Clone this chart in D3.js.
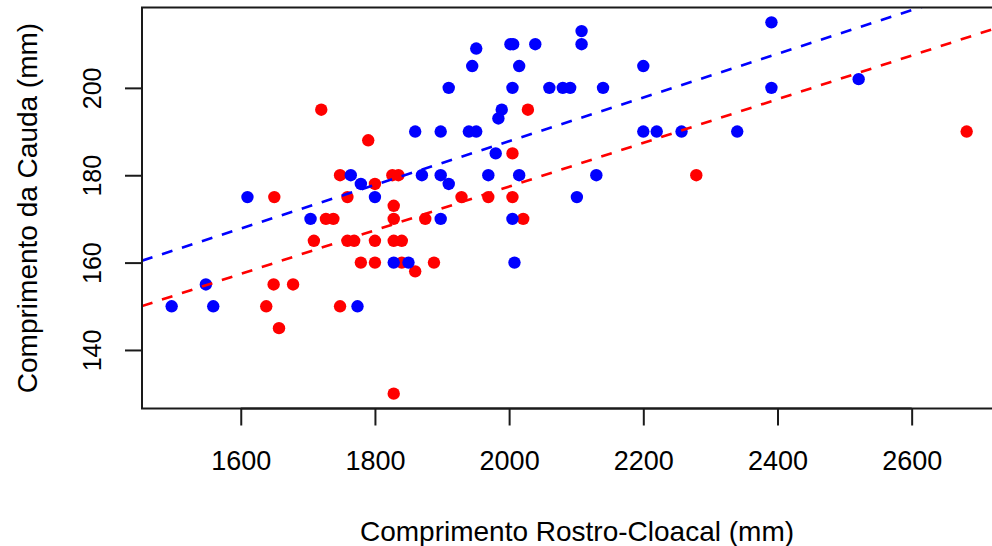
<!DOCTYPE html>
<html>
<head>
<meta charset="utf-8">
<script src="https://cdn.jsdelivr.net/npm/d3@7"></script>
<style>
  html, body { margin: 0; padding: 0; background: #fff; }
  svg { display: block; font-family: "Liberation Sans", Arial, sans-serif; }
</style>
</head>
<body>
<svg id="chart" width="992" height="546"></svg>
<script>
// ---- Data ----
const blueX = [1497,1548,1559,1610,1704,1764,1774,1779,1800,1828,1850,1860,1870,1898,1898,1898,1910,1910,1940,1945,1951,1951,1969,1980,1984,1989,2002,2006,2005,2005,2008,2015,2015,2039,2060,2080,2091,2101,2108,2108,2130,2140,2200,2200,2220,2257,2340,2391,2391,2521];
const blueY = [150,155,150,175,170,180,150,178,175,160,160,190,180,190,180,170,178,200,190,205,209,190,180,185,193,195,210,210,200,170,160,205,180,210,200,200,200,175,213,210,180,200,205,190,190,190,190,215,200,202];
const redX = [1638,1649,1650,1657,1678,1709,1720,1727,1738,1748,1748,1759,1759,1769,1779,1790,1800,1800,1800,1826,1835,1828,1828,1828,1828,1840,1840,1860,1875,1888,1929,1969,2005,2005,2021,2028,2279,2682];
const redY = [150,155,175,145,155,165,195,170,170,180,150,175,165,165,160,188,178,165,160,180,180,173,170,165,130,165,160,158,170,160,175,175,185,175,170,195,180,190];
// regression lines: [intercept, slope]
const blueLine = [87.8, 0.05];
const redLine = [77.4, 0.05];
const xTicks = [1600, 1800, 2000, 2200, 2400, 2600];
const yTicks = [140, 160, 180, 200];
const xTitle = "Comprimento Rostro-Cloacal (mm)";
const yTitle = "Comprimento da Cauda (mm)";

// ---- Layout ----
const svg = d3.select("#chart");
const plot = {left: 142, right: 997, top: 7.5, bottom: 408.5};
const x = d3.scaleLinear().domain([1452.8, 2727.2]).range([plot.left, plot.right]);
const y = d3.scaleLinear().domain([126.6, 218.4]).range([plot.bottom, plot.top]);

svg.append("defs").append("clipPath").attr("id", "clip")
  .append("rect")
  .attr("x", plot.left).attr("y", plot.top)
  .attr("width", plot.right - plot.left).attr("height", plot.bottom - plot.top);

const g = svg.append("g").attr("clip-path", "url(#clip)");

// points
const series = [
  {xs: redX, ys: redY, color: "#ff0000"},
  {xs: blueX, ys: blueY, color: "#0000ff"}
];
series.forEach(s => {
  g.selectAll(null).data(d3.range(s.xs.length)).enter().append("circle")
    .attr("cx", i => x(s.xs[i]))
    .attr("cy", i => y(s.ys[i]))
    .attr("r", 6.2)
    .attr("fill", s.color);
});

// regression lines
[[blueLine, "#0000ff"], [redLine, "#ff0000"]].forEach(([ln, col]) => {
  const [x0, x1] = x.domain();
  g.append("line")
    .attr("x1", x(x0)).attr("y1", y(ln[0] + ln[1] * x0))
    .attr("x2", x(x1)).attr("y2", y(ln[0] + ln[1] * x1))
    .attr("stroke", col).attr("stroke-width", 2.6)
    .attr("stroke-dasharray", "11,10");
});

// box
svg.append("rect")
  .attr("x", plot.left).attr("y", plot.top)
  .attr("width", plot.right - plot.left).attr("height", plot.bottom - plot.top)
  .attr("fill", "none").attr("stroke", "#1a1a1a").attr("stroke-width", 2);

// x axis
const xAxis = d3.axisBottom(x).tickValues(xTicks).tickSize(17).tickPadding(20).tickFormat(d3.format("d"));
const xa = svg.append("g").attr("transform", `translate(0,${plot.bottom})`).call(xAxis);
xa.select(".domain").attr("stroke", "#1a1a1a").attr("stroke-width", 2)
  .attr("d", `M${x(xTicks[0])},0H${x(xTicks[xTicks.length-1])}`);
xa.selectAll(".tick line").attr("stroke", "#1a1a1a").attr("stroke-width", 2);
xa.selectAll(".tick text").attr("font-size", 27).attr("fill", "#000")
  .attr("font-family", "Liberation Sans, Arial, sans-serif")
  .attr("dy", null).attr("y", 61.5);

// y axis
const yAxis = d3.axisLeft(y).tickValues(yTicks).tickSize(17).tickFormat(d3.format("d"));
const ya = svg.append("g").attr("transform", `translate(${plot.left},0)`).call(yAxis);
ya.select(".domain").attr("stroke", "#1a1a1a").attr("stroke-width", 2)
  .attr("d", `M0,${y(yTicks[0])}V${y(yTicks[yTicks.length-1])}`);
ya.selectAll(".tick line").attr("stroke", "#1a1a1a").attr("stroke-width", 2);
ya.selectAll(".tick text")
  .attr("font-size", 25).attr("fill", "#000")
  .attr("font-family", "Liberation Sans, Arial, sans-serif")
  .attr("x", null).attr("dy", null)
  .attr("text-anchor", "middle")
  .attr("transform", "translate(-41,0) rotate(-90)");

// titles
svg.append("text")
  .attr("x", 577).attr("y", 541)
  .attr("text-anchor", "middle").attr("font-size", 28).attr("fill", "#000")
  .text(xTitle);
svg.append("text")
  .attr("transform", `translate(37,${(plot.top + plot.bottom) / 2}) rotate(-90)`)
  .attr("text-anchor", "middle").attr("font-size", 28).attr("fill", "#000")
  .text(yTitle);
</script>
</body>
</html>
